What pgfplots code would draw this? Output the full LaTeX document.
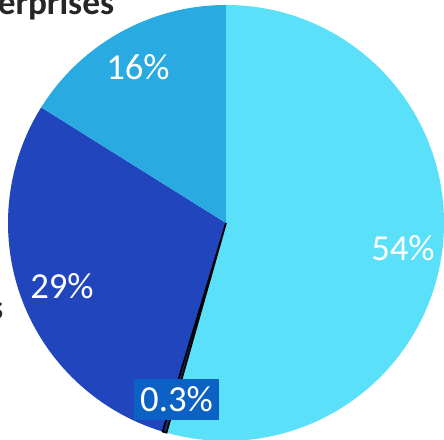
\documentclass[border=0pt]{standalone}
\usepackage{fontspec}
\setmainfont{Carlito}
\usepackage{pgfplots}
\usepackage{pgfplotstable}
\pgfplotsset{compat=1.18}
\definecolor{cA}{HTML}{5BE0FA}
\definecolor{cB}{HTML}{1B2A6B}
\definecolor{cC}{HTML}{2145BD}
\definecolor{cD}{HTML}{29ABE2}
\definecolor{boxc}{HTML}{0B62C4}
\definecolor{lab}{HTML}{262626}

\pgfplotstableread{
value
54.4
0.3
29.2
16.1
}\piedata
\pgfplotstablegetelem{0}{value}\of\piedata \let\va\pgfplotsretval
\pgfplotstablegetelem{1}{value}\of\piedata \let\vb\pgfplotsretval
\pgfplotstablegetelem{2}{value}\of\piedata \let\vc\pgfplotsretval
\pgfplotstablegetelem{3}{value}\of\piedata \let\vd\pgfplotsretval
\pgfmathsetmacro{\tot}{\va+\vb+\vc+\vd}
\pgfmathsetmacro{\aA}{90-(\va/\tot)*360}
\pgfmathsetmacro{\aB}{\aA-(\vb/\tot)*360}
\pgfmathsetmacro{\aC}{\aB-(\vc/\tot)*360}
\pgfmathsetmacro{\aD}{\aC-(\vd/\tot)*360}
\def\R{218}

\begin{document}
\begin{tikzpicture}
\begin{axis}[hide axis, scale only axis, width=4.44in, height=4.40in,
  xmin=0, xmax=444, ymin=0, ymax=440, clip=false]
\fill[cA] (axis cs:226,217) -- ++(90:\R) arc[start angle=90, end angle=\aA, radius=\R] -- cycle;
\fill[cC] (axis cs:226,217) -- ++(\aB:\R) arc[start angle=\aB, end angle=\aC, radius=\R] -- cycle;
\fill[cD] (axis cs:226,217) -- ++(\aC:\R) arc[start angle=\aC, end angle=\aD, radius=\R] -- cycle;
\filldraw[fill=cB, draw=black, line width=1.2pt] (axis cs:226,217) -- ++(\aA:\R) arc[start angle=\aA, end angle=\aB, radius=\R] -- cycle;
\node[text=white, font=\fontsize{26.5}{31}\selectfont] at (axis cs:138,373) {16\%};
\node[text=white, font=\fontsize{26.5}{31}\selectfont] at (axis cs:403,192) {54\%};
\node[text=white, font=\fontsize{26.5}{31}\selectfont] at (axis cs:62,154) {29\%};
\node[fill=boxc, text=white, inner sep=0pt, minimum width=0.85in, minimum height=0.41in, font=\fontsize{26.5}{31}\selectfont] at (axis cs:176.5,40.5) {0.3\%};
\node[text=lab, anchor=base east, font=\fontsize{25.5}{30}\selectfont\bfseries] at (axis cs:119,425) {Large enterprises};
\node[text=lab, anchor=base east, font=\fontsize{25.5}{30}\selectfont\bfseries] at (axis cs:8,120) {Households};
\end{axis}
\pgfresetboundingbox
\path (current axis.south west) rectangle (current axis.north east);
\end{tikzpicture}
\end{document}
